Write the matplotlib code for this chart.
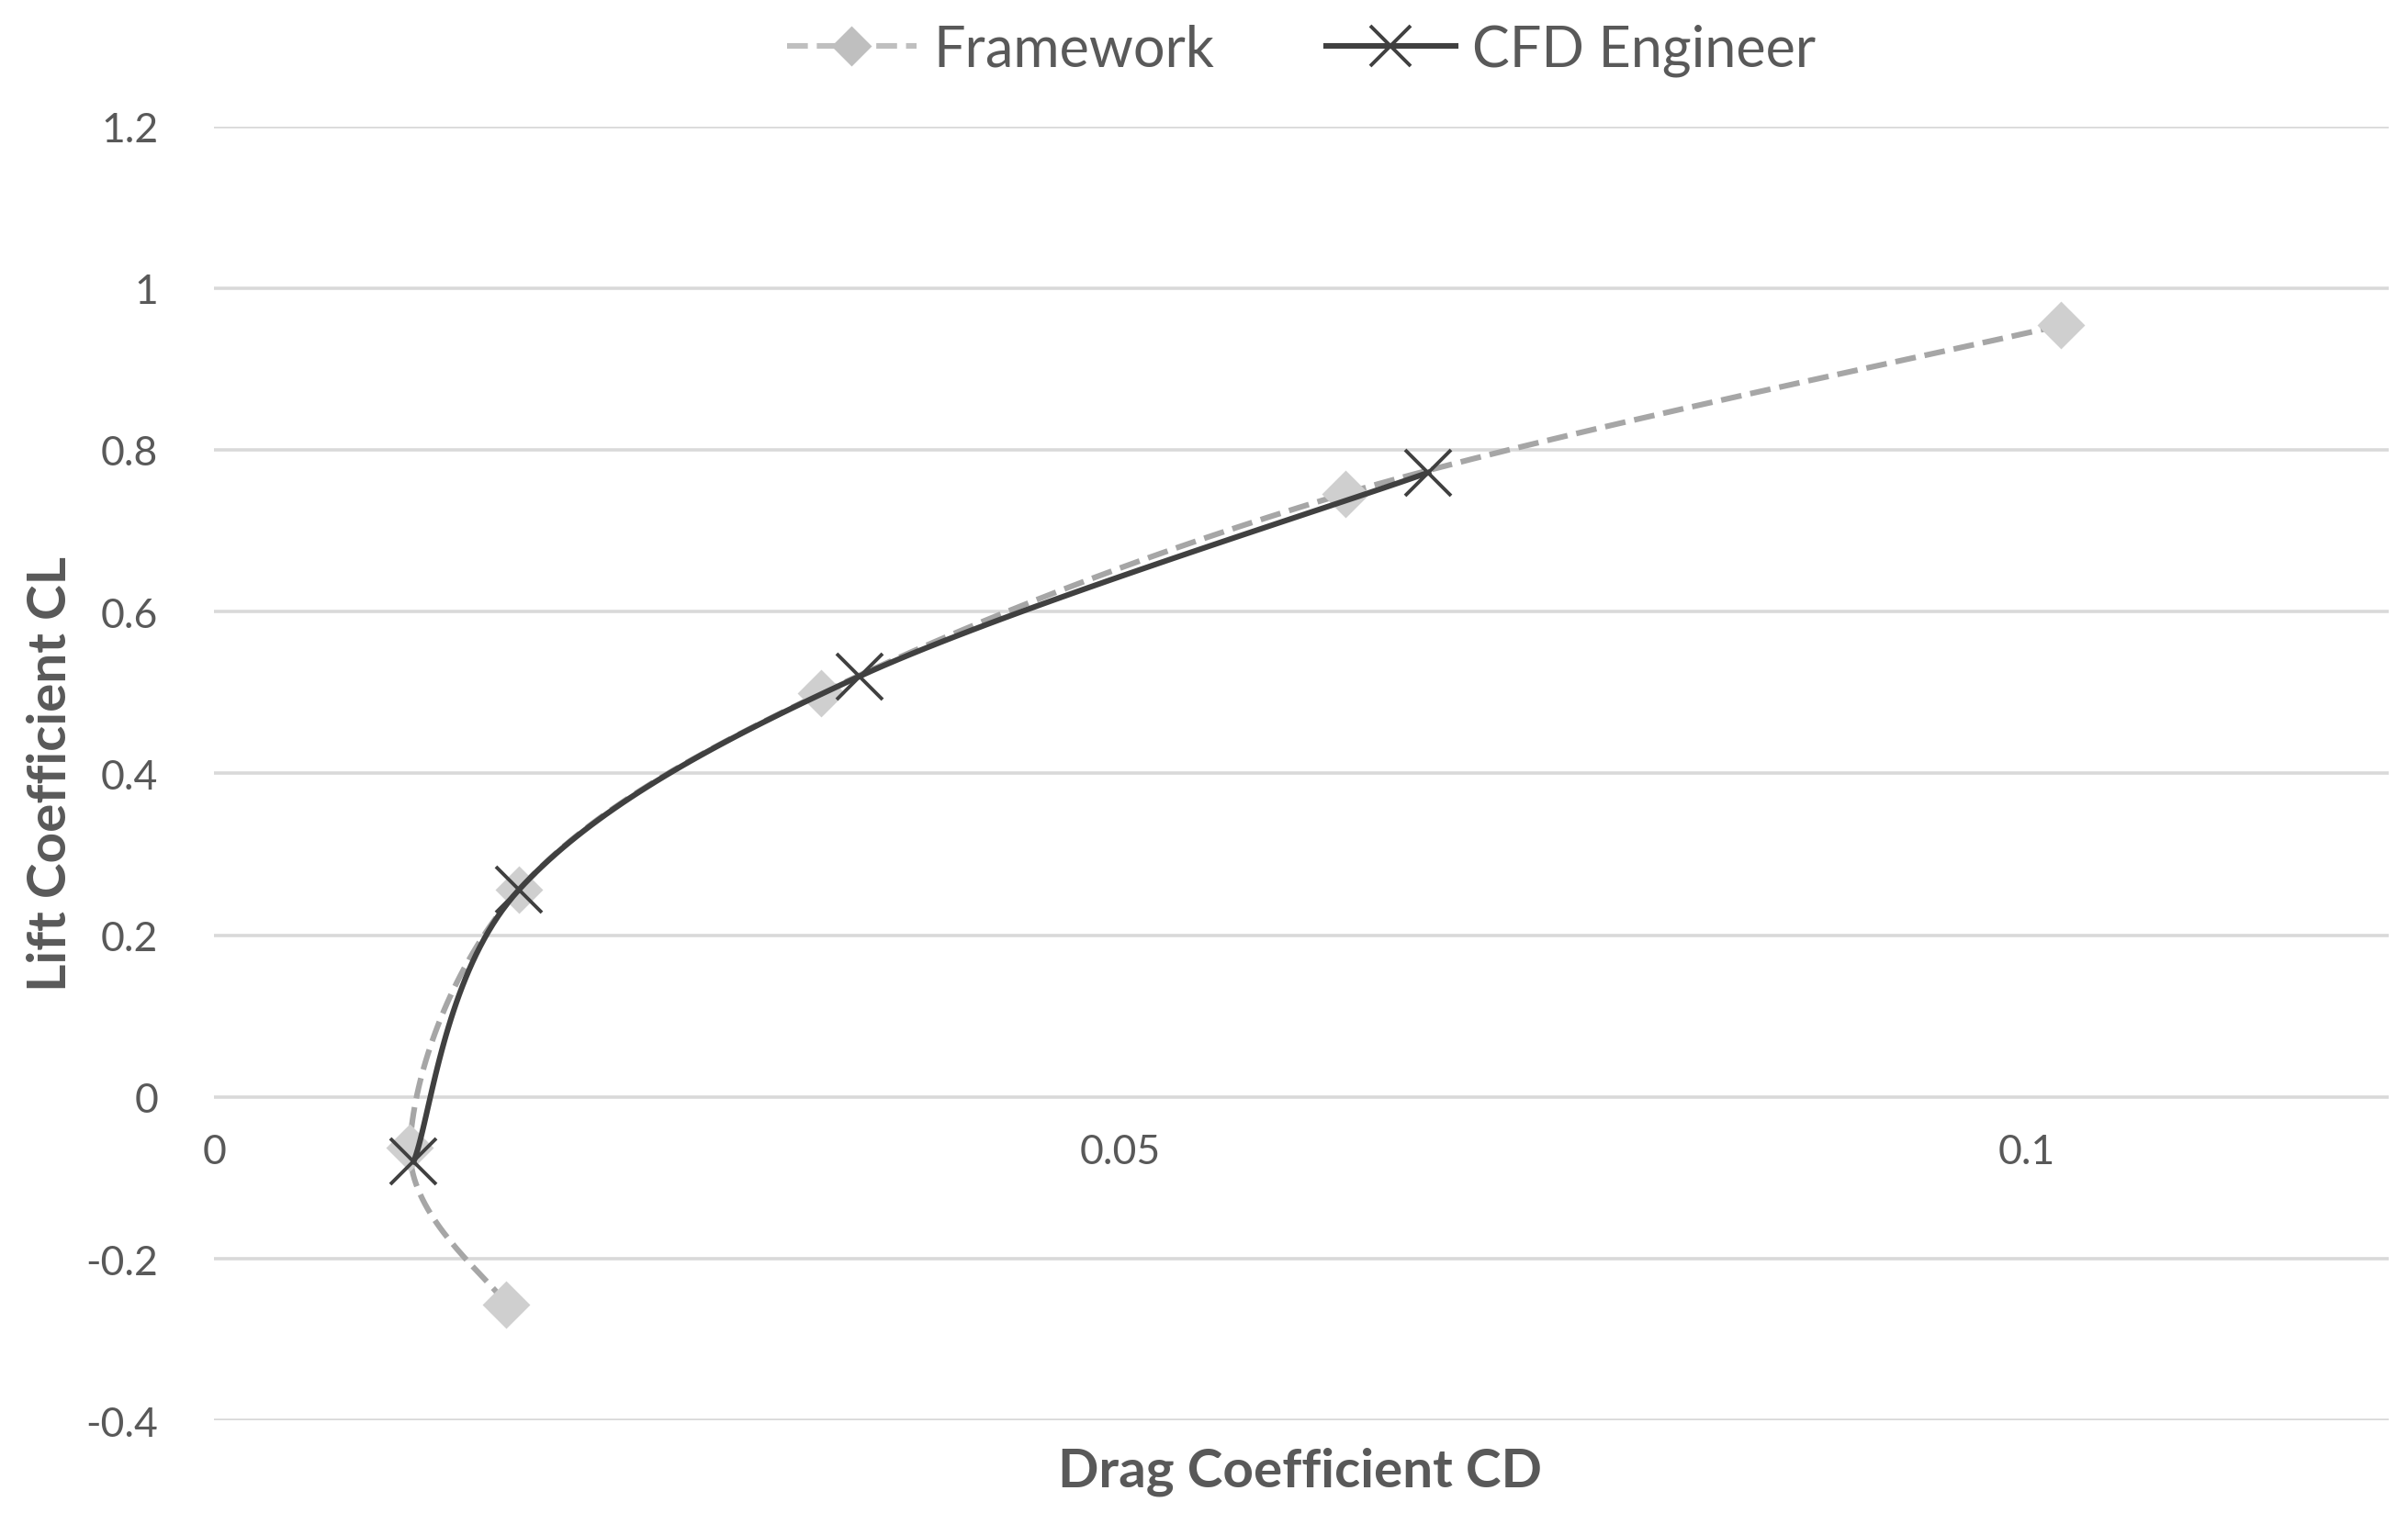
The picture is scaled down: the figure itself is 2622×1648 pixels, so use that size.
import numpy as np
import matplotlib.pyplot as plt

plt.rcParams['font.family'] = ['Lato', 'DejaVu Sans']

fw_cd = [0.0161, 0.0108, 0.0168, 0.0335, 0.0624, 0.1019]
fw_cl = [-0.256, -0.063, 0.256, 0.499, 0.746, 0.954]
cfd_cd = [0.0110, 0.0168, 0.0356, 0.0670]
cfd_cl = [-0.080, 0.256, 0.520, 0.772]


def smooth(x, y, n=40):
    # Catmull-Rom style curve through the points, like Excel's smoothed lines
    p = np.column_stack([x, y])
    p = np.vstack([p[0], p, p[-1]])
    out = []
    for i in range(1, len(p) - 2):
        p0, p1, p2, p3 = p[i - 1], p[i], p[i + 1], p[i + 2]
        t = np.linspace(0, 1, n)[:, None]
        seg = 0.5 * ((2 * p1) + (-p0 + p2) * t + (2 * p0 - 5 * p1 + 4 * p2 - p3) * t ** 2
                     + (-p0 + 3 * p1 - 3 * p2 + p3) * t ** 3)
        out.append(seg)
    s = np.vstack(out)
    return s[:, 0], s[:, 1]


fig = plt.figure(figsize=(13.11, 8.245), dpi=200)
ax = fig.add_axes([0.089, 0.061, 0.903, 0.855])

sx, sy = smooth(fw_cd, fw_cl)
ax.plot(sx, sy, '--', color='#A6A6A6', lw=2.2, zorder=2)
ax.plot(fw_cd, fw_cl, 'D', color='#CFCFCF', ms=12, zorder=3)
sx, sy = smooth(cfd_cd, cfd_cl)
ax.plot(sx, sy, '-', color='#404040', lw=2.2, zorder=4)
ax.plot(cfd_cd, cfd_cl, 'x', color='#404040', ms=18, mew=1.4, zorder=5)

ax.plot([], [], '--D', color='#BFBFBF', lw=2.2, ms=10, label='Framework')
ax.plot([], [], '-x', color='#404040', lw=2.2, ms=16, mew=1.4, label='CFD Engineer')
ax.legend(loc='lower center', bbox_to_anchor=(0.5, 1.0), ncol=2, frameon=False,
          fontsize=22, labelcolor='#595959', handlelength=2.3, handletextpad=0.3,
          columnspacing=2)

ax.set_xlim(0, 0.12)
ax.set_ylim(-0.4, 1.2)
ax.set_xticks([0, 0.05, 0.1])
ax.set_xticklabels(['0', '0.05', '0.1'])
ax.set_yticks(np.arange(-0.4, 1.21, 0.2))
ax.set_yticklabels(['-0.4', '-0.2', '0', '0.2', '0.4', '0.6', '0.8', '1', '1.2'])
ax.grid(axis='y', color='#D9D9D9', lw=1.3)
ax.set_axisbelow(True)
for s in ax.spines.values():
    s.set_visible(False)
ax.spines['bottom'].set_position(('data', 0))
ax.tick_params(length=0, labelsize=16, colors='#595959', pad=14)
ax.tick_params(axis='y', pad=22)
ax.set_ylabel('Lift Coefficient CL', fontsize=21, fontweight='bold', color='#595959')
fig.text(0.54, 0.028, 'Drag Coefficient CD', fontsize=21, fontweight='bold',
         color='#595959', ha='center', va='center')
fig.savefig('out.png')
